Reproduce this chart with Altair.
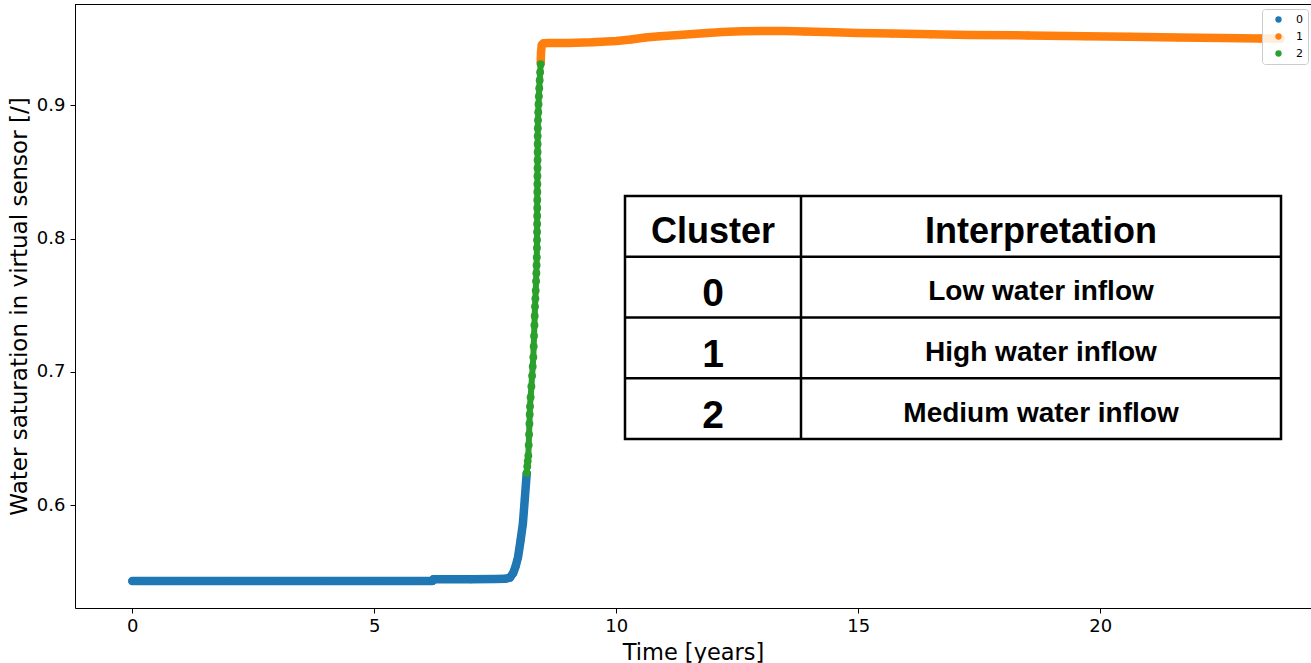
import altair as alt
import pandas as pd

# ---------------- data ----------------
clusters = ["0", "1", "2"]
cluster_colors = ["#1f77b4", "#ff7f0e", "#2ca02c"]

# cluster 0 (low water inflow)
t_c0 = [0.0, 1.0, 2.0, 3.0, 4.0, 5.0, 6.0, 6.20, 6.22, 7.0, 7.5, 7.70, 7.80,
        7.87, 7.92, 7.97, 8.02, 8.07, 8.11, 8.149]
s_c0 = [0.5429, 0.5429, 0.5429, 0.5429, 0.5429, 0.5429, 0.5429, 0.5429, 0.5443,
        0.5443, 0.5444, 0.5446, 0.5455, 0.5490, 0.5540, 0.5610, 0.5730, 0.5860,
        0.6050, 0.6238]

# cluster 2 (medium water inflow)
t_c2 = [8.149, 8.160, 8.170, 8.182, 8.190, 8.198, 8.205, 8.211, 8.217, 8.230,
        8.245, 8.260, 8.273, 8.285, 8.293, 8.300, 8.308, 8.314, 8.320, 8.328,
        8.335, 8.342, 8.348, 8.353, 8.357, 8.360, 8.362, 8.363, 8.364, 8.365,
        8.366, 8.367, 8.368, 8.369, 8.370, 8.372, 8.373, 8.374, 8.375, 8.376,
        8.378, 8.382, 8.387, 8.393, 8.400, 8.408, 8.417, 8.426, 8.438]
s_c2 = [0.624, 0.629, 0.633, 0.637, 0.645, 0.653, 0.661, 0.668, 0.674, 0.681,
        0.689, 0.697, 0.704, 0.711, 0.719, 0.727, 0.735, 0.742, 0.749, 0.755,
        0.761, 0.768, 0.774, 0.780, 0.786, 0.793, 0.799, 0.805, 0.811, 0.817,
        0.823, 0.829, 0.835, 0.841, 0.847, 0.853, 0.859, 0.865, 0.871, 0.877,
        0.883, 0.889, 0.895, 0.901, 0.907, 0.913, 0.919, 0.925, 0.931]

# cluster 1 (high water inflow)
t_c1 = [8.438, 8.445, 8.46, 8.50, 8.60, 9.0, 9.5, 10.0, 10.3, 10.6, 10.9, 11.3,
        11.8, 12.2, 12.6, 13.0, 13.5, 13.9, 14.5, 15.0, 15.7, 16.5, 17.3, 18.5,
        19.7, 20.6, 21.6, 22.5, 23.3, 23.72]
s_c1 = [0.932, 0.940, 0.9455, 0.9468, 0.9470, 0.9470, 0.9475, 0.9485, 0.9495,
        0.9510, 0.9520, 0.9530, 0.9542, 0.9552, 0.9558, 0.9560, 0.9560, 0.9555,
        0.9550, 0.9545, 0.9540, 0.9535, 0.9530, 0.9526, 0.9520, 0.9516, 0.9510,
        0.9506, 0.9503, 0.9502]

x_ticks = [0, 5, 10, 15, 20]
y_ticks = [0.6, 0.7, 0.8, 0.9]

table_header = ["Cluster", "Interpretation"]
table_clusters = ["0", "1", "2"]
table_interp = ["Low water inflow", "High water inflow", "Medium water inflow"]

# ---------------- layout ----------------
W, H = 1236, 604
X_DOMAIN = [-1.184, 24.353]
Y_DOMAIN = [0.5227, 0.9762]

df = pd.concat([
    pd.DataFrame({"t": t_c0, "s": s_c0, "cluster": "0"}),
    pd.DataFrame({"t": t_c1, "s": s_c1, "cluster": "1"}),
    pd.DataFrame({"t": t_c2, "s": s_c2, "cluster": "2"}),
], ignore_index=True)

xenc = alt.X("t:Q", scale=alt.Scale(domain=X_DOMAIN, nice=False, zero=False),
             axis=alt.Axis(values=x_ticks, format="d", title="Time [years]",
                           labelFontSize=18, titleFontSize=22.5, titleFontWeight="normal",
                           labelFont="DejaVu Sans", titleFont="DejaVu Sans",
                           labelColor="black", titleColor="black",
                           tickColor="black", domainColor="black", tickSize=5,
                           labelPadding=4, titlePadding=6, grid=False))
yenc = alt.Y("s:Q", scale=alt.Scale(domain=Y_DOMAIN, nice=False, zero=False),
             axis=alt.Axis(values=y_ticks, format=".1f",
                           title="Water saturation in virtual sensor [/]",
                           labelFontSize=18, titleFontSize=23, titleFontWeight="normal",
                           labelFont="DejaVu Sans", titleFont="DejaVu Sans",
                           labelColor="black", titleColor="black",
                           tickColor="black", domainColor="black", tickSize=5,
                           labelPadding=5, titlePadding=5, grid=False))

line_layers = []
for c, col in zip(clusters, cluster_colors):
    line_layers.append(
        alt.Chart(df[df["cluster"] == c]).mark_line(
            color=col, strokeWidth=(6 if c == "2" else 8.5),
            strokeCap="round", strokeJoin="round", clip=True
        ).encode(x=xenc, y=yenc, order="t:Q")
    )

points = alt.Chart(df).mark_circle(size=62, opacity=1, clip=True).encode(
    x=xenc, y=yenc,
    color=alt.Color("cluster:N",
                    scale=alt.Scale(domain=clusters, range=cluster_colors),
                    legend=alt.Legend(orient="none", legendX=1187, legendY=5,
                                      title=None, symbolType="circle", symbolSize=40,
                                      symbolStrokeWidth=0, symbolOffset=6,
                                      labelFont="DejaVu Sans", labelFontSize=11,
                                      labelColor="black", labelOffset=12,
                                      rowPadding=5, padding=5,
                                      fillColor="rgba(255,255,255,0.85)",
                                      strokeColor="#cccccc", cornerRadius=3))
)

one = pd.DataFrame({"a": [0]})
top_spine = alt.Chart(one).mark_rule(color="black", strokeWidth=1).encode(
    x=alt.value(0), x2=alt.value(W), y=alt.value(0.5))

main = alt.layer(*line_layers, points, top_spine)

# ---------------- table ----------------
T_X0, T_X1, T_DIV = 550, 1206, 726
T_Y0, T_Y1 = 192, 435
C1, C2 = 638, 966
rowscale = alt.Scale(domain=[0, 4], range=[T_Y0, T_Y1], nice=False, zero=False)

box = alt.Chart(one).mark_rect(fill="white", stroke="black", strokeWidth=2.5).encode(
    x=alt.value(T_X0), x2=alt.value(T_X1), y=alt.value(T_Y0), y2=alt.value(T_Y1))
hlines = alt.Chart(pd.DataFrame({"row": [1, 2, 3]})).mark_rule(
    color="black", strokeWidth=2.5).encode(
    y=alt.Y("row:Q", scale=rowscale, axis=None),
    x=alt.value(T_X0), x2=alt.value(T_X1))
vline = alt.Chart(one).mark_rule(color="black", strokeWidth=2.5).encode(
    x=alt.value(T_DIV), y=alt.value(T_Y0), y2=alt.value(T_Y1))

hdr = pd.DataFrame({"row": [0.5], "a": [table_header[0]], "b": [table_header[1]]})
body = pd.DataFrame({"row": [1.5, 2.5, 3.5], "a": table_clusters, "b": table_interp})

hdr_a = alt.Chart(hdr).mark_text(font="Liberation Sans", fontWeight="bold", fontSize=36,
                                 baseline="middle", align="center", color="black", dy=6).encode(
    y=alt.Y("row:Q", scale=rowscale, axis=None), x=alt.value(C1), text="a:N")
hdr_b = alt.Chart(hdr).mark_text(font="Liberation Sans", fontWeight="bold", fontSize=36,
                                 baseline="middle", align="center", color="black", dy=6).encode(
    y=alt.Y("row:Q", scale=rowscale, axis=None), x=alt.value(C2), text="b:N")
body_a = alt.Chart(body).mark_text(font="Liberation Sans", fontWeight="bold", fontSize=39,
                                   baseline="middle", align="center", color="black", dy=7).encode(
    y=alt.Y("row:Q", scale=rowscale, axis=None), x=alt.value(C1), text="a:N")
body_b = alt.Chart(body).mark_text(font="Liberation Sans", fontWeight="bold", fontSize=28,
                                   baseline="middle", align="center", color="black", dy=5).encode(
    y=alt.Y("row:Q", scale=rowscale, axis=None), x=alt.value(C2), text="b:N")

table = alt.layer(box, hlines, vline, hdr_a, hdr_b, body_a, body_b)

chart = alt.layer(main, table).resolve_scale(y="independent").properties(
    width=W, height=H,
    padding={"left": 75, "top": 4, "right": 0, "bottom": 55},
    autosize=alt.AutoSizeParams(type="none"),
    background="white",
).configure_view(stroke=None)

chart.save("out.html", embed_options={"renderer": "svg", "actions": False})
